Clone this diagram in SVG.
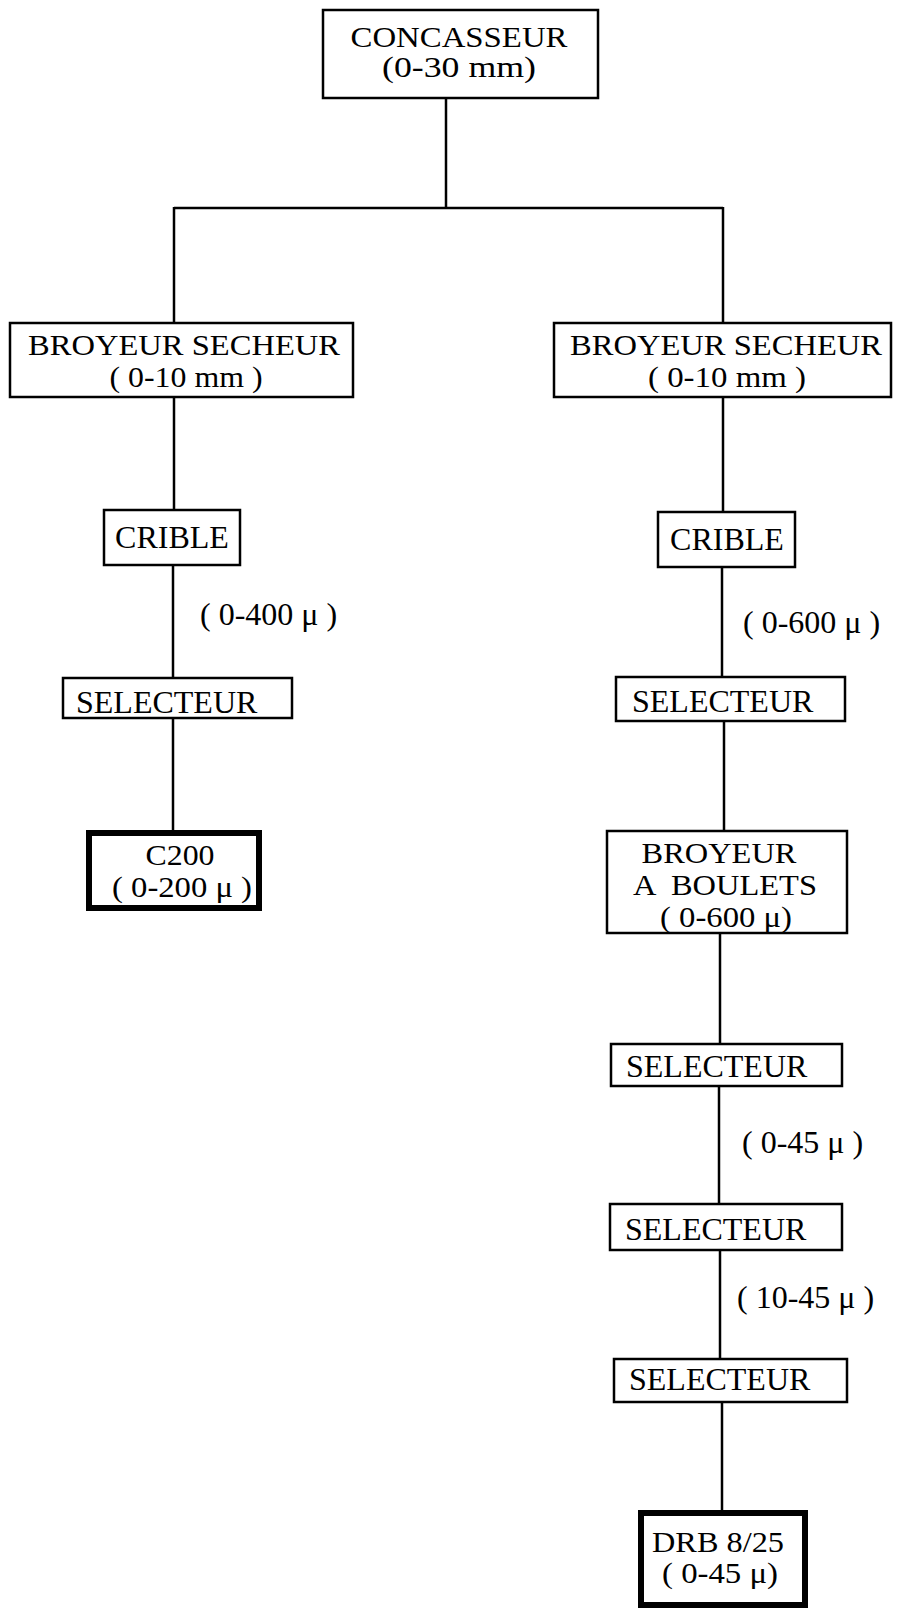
<svg xmlns="http://www.w3.org/2000/svg" width="899" height="1610" viewBox="0 0 899 1610">
<style>
.box{fill:#fff;stroke:#000;stroke-width:2.5}
.thick{fill:#fff;stroke:#000;stroke-width:6}
text{font-family:"Liberation Serif","Times New Roman",serif;font-size:32px;fill:#000}
.m{font-size:29px}
.c{text-anchor:middle}
#connectors line{stroke:#000;stroke-width:2.5}
</style>
<rect width="899" height="1610" fill="#fff"/>
<g id="connectors">
<line x1="446" y1="98" x2="446" y2="208"/>
<line x1="174" y1="208" x2="723" y2="208"/>
<line x1="174" y1="207" x2="174" y2="323"/>
<line x1="723" y1="207" x2="723" y2="323"/>
<line x1="174" y1="397" x2="174" y2="510"/>
<line x1="173" y1="565" x2="173" y2="678"/>
<line x1="173" y1="718" x2="173" y2="831"/>
<line x1="723" y1="397" x2="723" y2="512"/>
<line x1="722" y1="567" x2="722" y2="677"/>
<line x1="724" y1="721" x2="724" y2="831"/>
<line x1="720" y1="933" x2="720" y2="1044"/>
<line x1="719" y1="1086" x2="719" y2="1204"/>
<line x1="720" y1="1250" x2="720" y2="1359"/>
<line x1="722" y1="1402" x2="722" y2="1511"/>
</g>
<g id="concasseur">
<rect class="box" x="323" y="10" width="275" height="88"/>
<text class="c m" x="459" y="47" textLength="217" lengthAdjust="spacingAndGlyphs">CONCASSEUR</text>
<text class="c m" x="459" y="77" textLength="154" lengthAdjust="spacingAndGlyphs">(0-30 mm)</text>
</g>
<g id="broyeur-secheur-left">
<rect class="box" x="10" y="323" width="343" height="74"/>
<text class="c m" x="184" y="355" textLength="312" lengthAdjust="spacingAndGlyphs">BROYEUR SECHEUR</text>
<text class="c m" x="186" y="387" textLength="153" lengthAdjust="spacingAndGlyphs">( 0-10 mm )</text>
</g>
<g id="broyeur-secheur-right">
<rect class="box" x="554" y="323" width="337" height="74"/>
<text class="c m" x="726" y="355" textLength="312" lengthAdjust="spacingAndGlyphs">BROYEUR SECHEUR</text>
<text class="c m" x="727" y="387" textLength="158" lengthAdjust="spacingAndGlyphs">( 0-10 mm )</text>
</g>
<g id="crible-left">
<rect class="box" x="104" y="510" width="136" height="55"/>
<text class="c" x="172" y="548">CRIBLE</text>
</g>
<g id="crible-right">
<rect class="box" x="658" y="512" width="137" height="55"/>
<text class="c" x="727" y="550">CRIBLE</text>
</g>
<g id="label-0-400">
<text x="200" y="625">( 0-400 μ )</text>
</g>
<g id="label-0-600">
<text x="743" y="633">( 0-600 μ )</text>
</g>
<g id="selecteur-left">
<rect class="box" x="63" y="678" width="229" height="40"/>
<text x="76" y="713">SELECTEUR</text>
</g>
<g id="selecteur-right-1">
<rect class="box" x="616" y="677" width="229" height="44"/>
<text x="632" y="712">SELECTEUR</text>
</g>
<g id="c200">
<rect class="thick" x="89" y="833" width="170" height="75"/>
<text class="c m" x="180" y="865" textLength="69" lengthAdjust="spacingAndGlyphs">C200</text>
<text class="c m" x="182" y="897" textLength="140" lengthAdjust="spacingAndGlyphs">( 0-200 μ )</text>
</g>
<g id="broyeur-boulets">
<rect class="box" x="607" y="831" width="240" height="102"/>
<text class="c m" x="719" y="863" textLength="155" lengthAdjust="spacingAndGlyphs">BROYEUR</text>
<text class="c m" x="725" y="895" xml:space="preserve" textLength="184" lengthAdjust="spacingAndGlyphs">A  BOULETS</text>
<text class="c m" x="726" y="927" textLength="132" lengthAdjust="spacingAndGlyphs">( 0-600 μ)</text>
</g>
<g id="selecteur-right-2">
<rect class="box" x="611" y="1044" width="231" height="42"/>
<text x="626" y="1077">SELECTEUR</text>
</g>
<g id="label-0-45">
<text x="742" y="1153">( 0-45 μ )</text>
</g>
<g id="selecteur-right-3">
<rect class="box" x="610" y="1204" width="232" height="46"/>
<text x="625" y="1240">SELECTEUR</text>
</g>
<g id="label-10-45">
<text x="737" y="1308">( 10-45 μ )</text>
</g>
<g id="selecteur-right-4">
<rect class="box" x="614" y="1359" width="233" height="43"/>
<text x="629" y="1390">SELECTEUR</text>
</g>
<g id="drb">
<rect class="thick" x="641" y="1513" width="164" height="92"/>
<text class="c m" x="718" y="1552" textLength="132" lengthAdjust="spacingAndGlyphs">DRB 8/25</text>
<text class="c m" x="720" y="1583" textLength="116" lengthAdjust="spacingAndGlyphs">( 0-45 μ)</text>
</g>
</svg>
